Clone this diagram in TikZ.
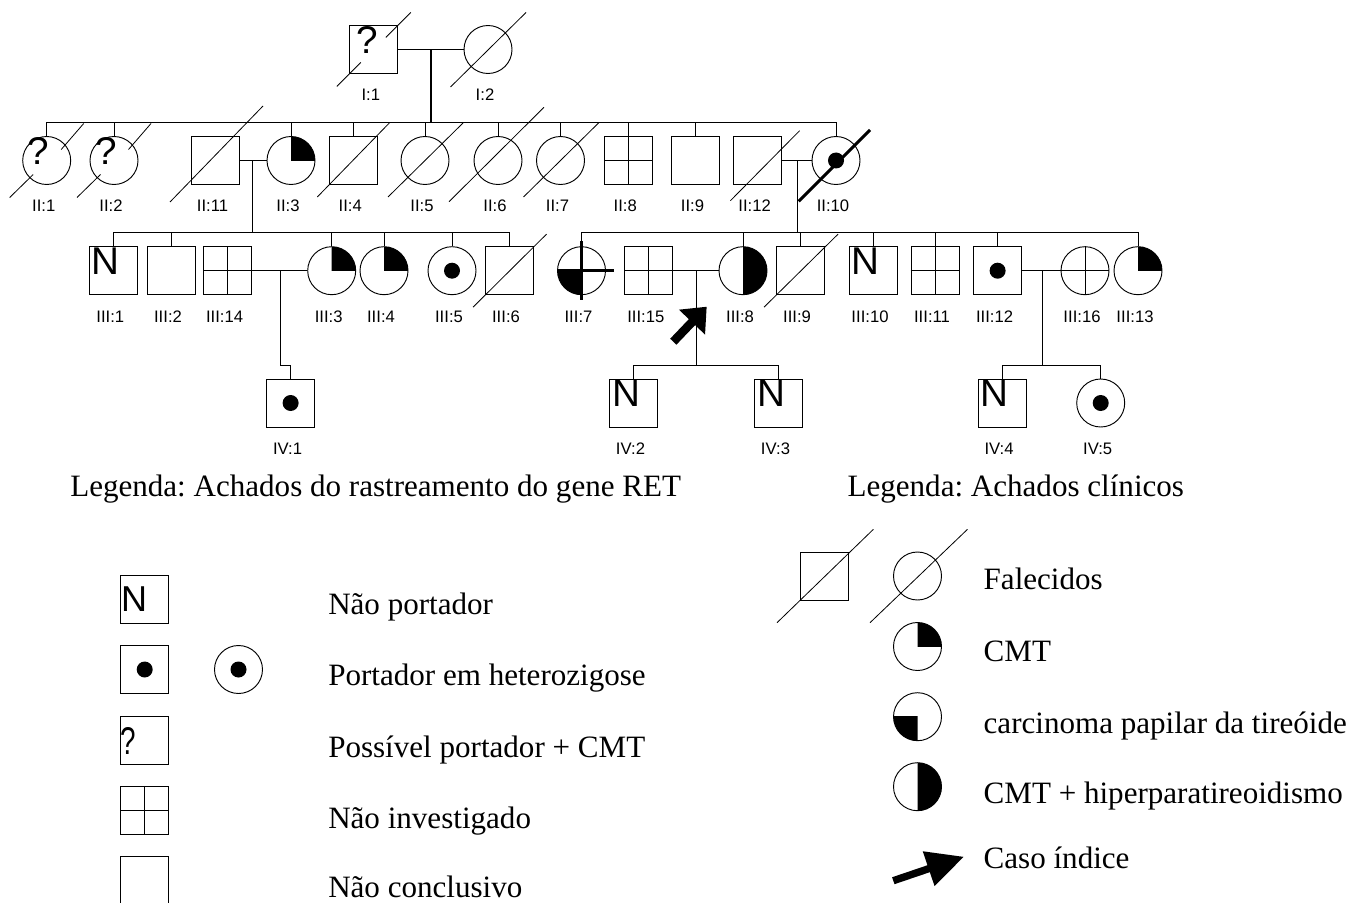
\documentclass[tikz,border=0pt]{standalone}
\usepackage{fontspec}
\setmainfont{Liberation Serif}
\newfontfamily\pedfont{Liberation Sans}
\usetikzlibrary{calc}
\usetikzlibrary{arrows.meta}
\frenchspacing

\begin{document}
\begin{tikzpicture}[x=0.75pt,y=0.75pt,yscale=-1,xscale=1,
	male/.style={draw, rectangle, minimum size=36pt, inner sep=0pt, line width=0.7pt},
	female/.style={draw, circle, minimum size=36pt, inner sep=0pt, line width=0.7pt},
	tie/.style={line width=0.7pt},
	slash/.style={line width=0.6pt},
	idlab/.style={anchor=base, inner sep=0pt, font=\pedfont\fontsize{12.5}{13}\selectfont},
	glyph/.style={inner sep=0pt, font=\pedfont\fontsize{29}{31}\selectfont},
	legtext/.style={anchor=base west, inner sep=0pt, font=\fontsize{23.3}{28}\selectfont}]

	\useasboundingbox (0,0) rectangle (1351,902);

	% Generation I
	\node[male] (i1) at (373.8,49.5) {};
	\node[female] (i2) at (488,49.5) {};
	\coordinate (m1) at (431,49.5);
	\coordinate (s2) at (0,122.3);

	% Generation II
	\node[female] (ii1) at (46.7,160.5) {};
	\node[female] (ii2) at (114,160.5) {};
	\node[male] (ii11) at (215.5,160.5) {};
	\node[female] (ii3) at (291,160.5) {};
	\node[male] (ii4) at (353.3,160.5) {};
	\node[female] (ii5) at (425,160.5) {};
	\node[female] (ii6) at (498,160.5) {};
	\node[female] (ii7) at (560.5,160.5) {};
	\node[male] (ii8) at (628.3,160.5) {};
	\node[male] (ii9) at (695.5,160.5) {};
	\node[male] (ii12) at (757.6,160.5) {};
	\node[female] (ii10) at (836,160.5) {};
	\coordinate (m2) at (252,160.5);
	\coordinate (m3) at (797.3,160.5);
	\coordinate (s3) at (0,232.3);

	% Generation III
	\node[male] (iii1) at (113.3,270.7) {};
	\node[male] (iii2) at (171,270.7) {};
	\node[male] (iii14) at (227.6,270.7) {};
	\node[female] (iii3) at (331.7,270.7) {};
	\node[female] (iii4) at (384,270.7) {};
	\node[female] (iii5) at (452,270.7) {};
	\node[male] (iii6) at (509,270.7) {};
	\node[female] (iii7) at (581.5,270.7) {};
	\node[male] (iii15) at (648.8,270.7) {};
	\node[female] (iii8) at (743,270.7) {};
	\node[male] (iii9) at (800,270.7) {};
	\node[male] (iii10) at (873,270.7) {};
	\node[male] (iii11) at (935,270.7) {};
	\node[male] (iii12) at (997.6,270.7) {};
	\node[female] (iii16) at (1085,270.7) {};
	\node[female] (iii13) at (1138,270.7) {};
	\coordinate (m4) at (280.4,270.7);
	\coordinate (m5) at (696.7,270.7);
	\coordinate (m6) at (1042,270.7);
	\coordinate (s4) at (0,365);

	% Generation IV
	\node[male] (iv1) at (290.6,403) {};
	\node[male] (iv2) at (633.5,403) {};
	\node[male] (iv3) at (778.5,403) {};
	\node[male] (iv4) at (1002,403) {};
	\node[female] (iv5) at (1100.7,403) {};

	%Straight Lines (marriages and descents)
	\draw[tie] (i1.east) -- (i2.west);
	\draw[line width=1.5pt] (m1) -- (m1 |- s2);
	\draw[tie] (ii1.north) |- (ii10.north |- s2) -- (ii10.north);
	\draw[tie] (ii2.north) -- (ii2.north |- s2) (ii3.north) -- (ii3.north |- s2)
		(ii4.north) -- (ii4.north |- s2) (ii5.north) -- (ii5.north |- s2)
		(ii6.north) -- (ii6.north |- s2) (ii7.north) -- (ii7.north |- s2)
		(ii8.north) -- (ii8.north |- s2) (ii9.north) -- (ii9.north |- s2);

	\draw[tie] (ii11.east) -- (ii3.west);
	\draw[tie] (m2) -- (m2 |- s3);
	\draw[tie] (iii1.north) |- (iii6.north |- s3) -- (iii6.north);
	\draw[tie] (iii2.north) -- (iii2.north |- s3) (iii3.north) -- (iii3.north |- s3)
		(iii4.north) -- (iii4.north |- s3) (iii5.north) -- (iii5.north |- s3);

	\draw[tie] (ii12.east) -- (ii10.west);
	\draw[tie] (m3) -- (m3 |- s3);
	\draw[tie] (iii7.north) |- (iii13.north |- s3) -- (iii13.north);
	\draw[tie] (iii8.north) -- (iii8.north |- s3) (iii9.north) -- (iii9.north |- s3)
		(iii10.north) -- (iii10.north |- s3) (iii11.north) -- (iii11.north |- s3)
		(iii12.north) -- (iii12.north |- s3);

	\draw[tie] (iii14.east) -- (iii3.west);
	\draw[tie] (m4) -- (m4 |- s4) -| (iv1.north);

	\draw[tie] (iii15.east) -- (iii8.west);
	\draw[tie] (m5) -- (m5 |- s4);
	\draw[tie] (iv2.north) |- (iv3.north |- s4) -- (iv3.north);

	\draw[tie] (iii12.east) -- (iii16.west);
	\draw[tie] (m6) -- (m6 |- s4);
	\draw[tie] (iv4.north) |- (iv5.north |- s4) -- (iv5.north);

	% Not investigated (cross)
	\draw[tie] (ii8.north) -- (ii8.south) (ii8.west) -- (ii8.east);
	\draw[tie] (iii14.north) -- (iii14.south) (iii14.west) -- (iii14.east);
	\draw[tie] (iii15.north) -- (iii15.south) (iii15.west) -- (iii15.east);
	\draw[tie] (iii11.north) -- (iii11.south) (iii11.west) -- (iii11.east);
	\draw[tie] (iii16.north) -- (iii16.south) (iii16.west) -- (iii16.east);

	% CMT (upper right quarter)
	\begin{scope}
		\clip (ii3.center) rectangle ++(30,-30);
		\fill (ii3) circle (24);
	\end{scope}
	\begin{scope}
		\clip (iii3.center) rectangle ++(30,-30);
		\fill (iii3) circle (24);
	\end{scope}
	\begin{scope}
		\clip (iii4.center) rectangle ++(30,-30);
		\fill (iii4) circle (24);
	\end{scope}
	\begin{scope}
		\clip (iii13.center) rectangle ++(30,-30);
		\fill (iii13) circle (24);
	\end{scope}

	% papillary carcinoma (lower left quarter) and thick cross
	\begin{scope}
		\clip (iii7.center) rectangle ++(-30,30);
		\fill (iii7) circle (24);
	\end{scope}
	\draw[line width=1.9pt] ($(iii7)+(0,-29.7)$) -- ($(iii7)+(0,29.3)$)
		(iii7.west) -- ($(iii7)+(32.5,0)$);

	% CMT + hyperparathyroidism (right half)
	\begin{scope}
		\clip ($(iii8)+(0,-30)$) rectangle ($(iii8)+(30,30)$);
		\fill (iii8) circle (24);
	\end{scope}
	\draw[tie] (iii8.north) -- (iii8.south);

	% Heterozygous carriers
	\fill (ii10) circle (8);
	\fill (iii5) circle (8);
	\fill (iii12) circle (8);
	\fill (iv1) circle (8);
	\fill (iv5) circle (8);

	% N and ? marks
	\node[glyph] (ni1) at ($(iii1)+(-7.5,-9.5)$) {N};
	\node[glyph] (ni2) at ($(iii10)+(-7.5,-9.5)$) {N};
	\node[glyph] (ni3) at ($(iv2)+(-7.5,-9.5)$) {N};
	\node[glyph] (ni4) at ($(iv3)+(-7.5,-9.5)$) {N};
	\node[glyph] (ni5) at ($(iv4)+(-7.5,-9.5)$) {N};
	\node[glyph] (qi1) at ($(i1)+(-6.5,-9.5)$) {?};
	\node[glyph] (qi2) at ($(ii1)+(-8,-9.5)$) {?};
	\node[glyph] (qi3) at ($(ii2)+(-8,-9.5)$) {?};

	% Deceased
	\draw[slash] ($(i1)+(-37,37)$) -- ($(i1)+(-13,13)$) ($(i1)+(12,-12)$) -- ($(i1)+(37,-37)$);
	\draw[slash] ($(ii1)+(-37,37)$) -- ($(ii1)+(-13.5,14)$) ($(ii1)+(14.5,-11)$) -- ($(ii1)+(37,-37)$);
	\draw[slash] ($(ii2)+(-37,37)$) -- ($(ii2)+(-13.5,14)$) ($(ii2)+(14.5,-11)$) -- ($(ii2)+(37,-37)$);
	\draw[slash] ($(i2)+(-37.5,37.5)$) -- ($(i2)+(38,-37)$);
	\draw[slash] ($(ii11)+(-45.5,41.5)$) -- ($(ii11)+(47.5,-54.5)$);
	\draw[slash] ($(ii4)+(-36,36.5)$) -- ($(ii4)+(36,-37.5)$);
	\draw[slash] ($(ii5)+(-37,36.5)$) -- ($(ii5)+(38,-37.5)$);
	\draw[slash] ($(ii6)+(-49,41.2)$) -- ($(ii6)+(46,-53.2)$);
	\draw[slash] ($(ii7)+(-37,36.5)$) -- ($(ii7)+(38,-37.5)$);
	\draw[slash] ($(ii12)+(-27.2,40.2)$) -- ($(ii12)+(42,-29.8)$);
	\draw[line width=2.2pt] ($(ii10)+(-37.3,40.8)$) -- ($(ii10)+(34,-30.5)$);
	\draw[slash] ($(iii6)+(-36,36.5)$) -- ($(iii6)+(37.5,-36.5)$);
	\draw[slash] ($(iii9)+(-36,36.5)$) -- ($(iii9)+(38,-36.5)$);

	% Index case
	\coordinate (idxtail) at (673.3,341.7);
	\coordinate (idxtip) at (706.7,306.7);
	\draw[line width=6.5pt, -{Triangle[length=16pt, width=26pt]}] (idxtail) -- (idxtip);

	% Text Node
	\node[idlab] (li1) at ($(i1)+(-3,51.5)$) {I:1};
	\node[idlab] (li2) at ($(i2)+(-3,51.5)$) {I:2};
	\node[idlab] (lii1) at ($(ii1)+(-3,51.5)$) {II:1};
	\node[idlab] (lii2) at ($(ii2)+(-3,51.5)$) {II:2};
	\node[idlab] (lii11) at ($(ii11)+(-3,51.5)$) {II:11};
	\node[idlab] (lii3) at ($(ii3)+(-3,51.5)$) {II:3};
	\node[idlab] (lii4) at ($(ii4)+(-3,51.5)$) {II:4};
	\node[idlab] (lii5) at ($(ii5)+(-3,51.5)$) {II:5};
	\node[idlab] (lii6) at ($(ii6)+(-3,51.5)$) {II:6};
	\node[idlab] (lii7) at ($(ii7)+(-3,51.5)$) {II:7};
	\node[idlab] (lii8) at ($(ii8)+(-3,51.5)$) {II:8};
	\node[idlab] (lii9) at ($(ii9)+(-3,51.5)$) {II:9};
	\node[idlab] (lii12) at ($(ii12)+(-3,51.5)$) {II:12};
	\node[idlab] (lii10) at ($(ii10)+(-3,51.5)$) {II:10};
	\node[idlab] (liii1) at ($(iii1)+(-3,51.5)$) {III:1};
	\node[idlab] (liii2) at ($(iii2)+(-3,51.5)$) {III:2};
	\node[idlab] (liii14) at ($(iii14)+(-3,51.5)$) {III:14};
	\node[idlab] (liii3) at ($(iii3)+(-3,51.5)$) {III:3};
	\node[idlab] (liii4) at ($(iii4)+(-3,51.5)$) {III:4};
	\node[idlab] (liii5) at ($(iii5)+(-3,51.5)$) {III:5};
	\node[idlab] (liii6) at ($(iii6)+(-3,51.5)$) {III:6};
	\node[idlab] (liii7) at ($(iii7)+(-3,51.5)$) {III:7};
	\node[idlab] (liii15) at ($(iii15)+(-3,51.5)$) {III:15};
	\node[idlab] (liii8) at ($(iii8)+(-3,51.5)$) {III:8};
	\node[idlab] (liii9) at ($(iii9)+(-3,51.5)$) {III:9};
	\node[idlab] (liii10) at ($(iii10)+(-3,51.5)$) {III:10};
	\node[idlab] (liii11) at ($(iii11)+(-3,51.5)$) {III:11};
	\node[idlab] (liii12) at ($(iii12)+(-3,51.5)$) {III:12};
	\node[idlab] (liii16) at ($(iii16)+(-3,51.5)$) {III:16};
	\node[idlab] (liii13) at ($(iii13)+(-3,51.5)$) {III:13};
	\node[idlab] (liv1) at ($(iv1)+(-3,51.5)$) {IV:1};
	\node[idlab] (liv2) at ($(iv2)+(-3,51.5)$) {IV:2};
	\node[idlab] (liv3) at ($(iv3)+(-3,51.5)$) {IV:3};
	\node[idlab] (liv4) at ($(iv4)+(-3,51.5)$) {IV:4};
	\node[idlab] (liv5) at ($(iv5)+(-3,51.5)$) {IV:5};

	% Legend: RET screening
	\node[legtext] (ttl1) at (70,496) {Legenda: Achados do rastreamento do gene RET};
	\node[male] (lnp) at (144.7,599.2) {};
	\node[inner sep=0pt, font=\pedfont\fontsize{27}{29}\selectfont] (lnpn) at ($(lnp)+(-10.5,0)$) {N};
	\node[male] (lcars) at (144.7,669.5) {};
	\node[female] (lcarc) at (238.5,669.5) {};
	\fill (lcars) circle (8);
	\fill (lcarc) circle (8);
	\node[male] (lposs) at (144.7,740) {};
	\node[inner sep=0pt, xscale=0.72, font=\pedfont\fontsize{29}{31}\selectfont] (lpossq) at ($(lposs)+(-16,0.5)$) {?};
	\node[male] (lninv) at (144.7,810.3) {};
	\draw[tie] (lninv.north) -- (lninv.south) (lninv.west) -- (lninv.east);
	\node[male] (lncon) at (144.7,880.7) {};
	\node[legtext] (tnp) at (328,614) {Não portador};
	\node[legtext] (tcar) at (328,685.5) {Portador em heterozigose};
	\node[legtext] (tposs) at (328,757) {Possível portador + CMT};
	\node[legtext] (tninv) at (328,828.5) {Não investigado};
	\node[legtext] (tncon) at (328,897) {Não conclusivo};

	% Legend: clinical findings
	\node[legtext] (ttl2) at (847.3,496) {Legenda: Achados clínicos};
	\node[male] (ldeads) at (824,576) {};
	\node[female] (ldeadc) at (917.5,576) {};
	\draw[slash] ($(ldeads)+(-47,46.7)$) -- ($(ldeads)+(49.4,-46.7)$);
	\draw[slash] ($(ldeadc)+(-47.5,46.7)$) -- ($(ldeadc)+(50,-46.7)$);
	\node[female] (lcmt) at (917.5,646.5) {};
	\begin{scope}
		\clip (lcmt.center) rectangle ++(30,-30);
		\fill (lcmt) circle (24);
	\end{scope}
	\node[female] (lpap) at (917.5,716.7) {};
	\begin{scope}
		\clip (lpap.center) rectangle ++(-30,30);
		\fill (lpap) circle (24);
	\end{scope}
	\node[female] (lhpt) at (917.5,786.7) {};
	\begin{scope}
		\clip ($(lhpt)+(0,-30)$) rectangle ($(lhpt)+(30,30)$);
		\fill (lhpt) circle (24);
	\end{scope}
	\coordinate (lidxtail) at (893.3,880.7);
	\coordinate (lidxtip) at (964,856.7);
	\draw[line width=5.5pt, -{Triangle[length=28pt, width=26pt]}] (lidxtail) -- (lidxtip);
	\node[legtext] (tdead) at (983.4,589.3) {Falecidos};
	\node[legtext] (tcmt) at (983.4,661.7) {CMT};
	\node[legtext] (tpap) at (983.4,733.3) {carcinoma papilar da tireóide};
	\node[legtext] (thpt) at (983.4,803.3) {CMT + hiperparatireoidismo};
	\node[legtext] (tidx) at (983.4,868.3) {Caso índice};

\end{tikzpicture}
\end{document}
